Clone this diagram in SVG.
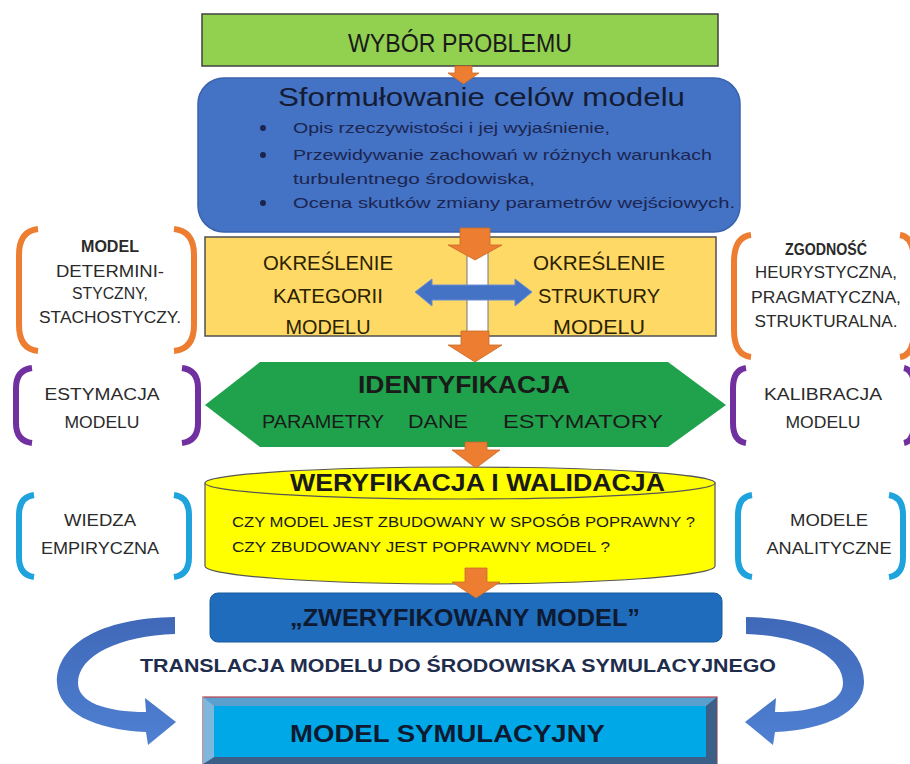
<svg xmlns="http://www.w3.org/2000/svg" width="910" height="764" viewBox="0 0 910 764">
<defs>
<style>
text{font-family:"Liberation Sans",Arial,sans-serif;fill:#1a1a1a}
.b{font-weight:bold}
.oa{fill:#ed7d31;stroke:#c96a28;stroke-width:0.8}
.br{fill:none;stroke-width:6;stroke-linecap:butt}
.bo{stroke:#ed7d31}
.bp{stroke:#7030a0}
.bb{stroke:#1fa3dc}
.side{font-size:16px;fill:#2a2a2a}
.bul{font-size:15px;fill:#1b2550}
.yt{font-size:21px;fill:#2b2200}
</style>
<linearGradient id="cg" x1="0" y1="0" x2="0" y2="1">
<stop offset="0" stop-color="#4068b8"/>
<stop offset="1" stop-color="#4f80d2"/>
</linearGradient>
</defs>

<g id="wybor">
<rect x="202" y="14" width="516" height="52" fill="#92d050" stroke="#404040" stroke-width="1.5"/>
<text x="348" y="52" font-size="26" textLength="224" lengthAdjust="spacingAndGlyphs">WYBÓR PROBLEMU</text>
</g>

<g id="cele">
<rect x="198" y="78" width="542" height="154" rx="26" fill="#4472c4" stroke="#3a62ad" stroke-width="1.5"/>
<text x="278" y="106" font-size="26" textLength="407" lengthAdjust="spacingAndGlyphs" style="fill:#141c33">Sformułowanie celów modelu</text>
<circle cx="263" cy="128" r="3" fill="#1b2550"/>
<circle cx="263" cy="155" r="3" fill="#1b2550"/>
<circle cx="263" cy="203" r="3" fill="#1b2550"/>
<text class="bul" x="293" y="133" textLength="317" lengthAdjust="spacingAndGlyphs">Opis rzeczywistości i jej wyjaśnienie,</text>
<text class="bul" x="293" y="160" textLength="419" lengthAdjust="spacingAndGlyphs">Przewidywanie zachowań w różnych warunkach</text>
<text class="bul" x="293" y="184" textLength="242" lengthAdjust="spacingAndGlyphs">turbulentnego środowiska,</text>
<text class="bul" x="293" y="208" textLength="442" lengthAdjust="spacingAndGlyphs">Ocena skutków zmiany parametrów wejściowych.</text>
</g>

<g id="okreslenie">
<rect x="205" y="237" width="511" height="99" fill="#ffd966" stroke="#505050" stroke-width="1.5"/>
<rect x="467" y="237" width="21" height="99" fill="#ffffff" stroke="#777" stroke-width="1"/>
<text class="yt" x="328" y="270" text-anchor="middle" textLength="130" lengthAdjust="spacingAndGlyphs">OKREŚLENIE</text>
<text class="yt" x="328" y="303" text-anchor="middle" textLength="110" lengthAdjust="spacingAndGlyphs">KATEGORII</text>
<text class="yt" x="328" y="334" text-anchor="middle" textLength="85" lengthAdjust="spacingAndGlyphs">MODELU</text>
<text class="yt" x="599" y="270" text-anchor="middle" textLength="132" lengthAdjust="spacingAndGlyphs">OKREŚLENIE</text>
<text class="yt" x="599" y="303" text-anchor="middle" textLength="122" lengthAdjust="spacingAndGlyphs">STRUKTURY</text>
<text class="yt" x="599" y="334" text-anchor="middle" textLength="92" lengthAdjust="spacingAndGlyphs">MODELU</text>
<path d="M415 292 L432 279 L432 285 L515 285 L515 279 L532 292 L515 306 L515 300 L432 300 L432 306 Z" fill="#4472c4" stroke="#6a8fd4" stroke-width="1"/>
</g>

<g id="identyfikacja">
<polygon points="205,405 260,362 668,362 726,405 668,447 260,447" fill="#1fa24b"/>
<text class="b" x="464" y="393" text-anchor="middle" font-size="23" textLength="212" lengthAdjust="spacingAndGlyphs">IDENTYFIKACJA</text>
<text x="262" y="428" font-size="19" textLength="122" lengthAdjust="spacingAndGlyphs">PARAMETRY</text>
<text x="408" y="428" font-size="19" textLength="60" lengthAdjust="spacingAndGlyphs">DANE</text>
<text x="503" y="428" font-size="19" textLength="160" lengthAdjust="spacingAndGlyphs">ESTYMATORY</text>
</g>

<g id="weryfikacja">
<path d="M205 483 L205 566 A255 18 0 0 0 715 566 L715 483 Z" fill="#ffff00" stroke="#555" stroke-width="1.2"/>
<ellipse cx="460" cy="483" rx="255" ry="16" fill="#ffff00" stroke="#555" stroke-width="1.2"/>
<text class="b" x="290" y="491" font-size="23" textLength="375" lengthAdjust="spacingAndGlyphs">WERYFIKACJA I WALIDACJA</text>
<text x="232" y="527" font-size="15" textLength="463" lengthAdjust="spacingAndGlyphs">CZY MODEL JEST ZBUDOWANY  W SPOSÓB POPRAWNY ?</text>
<text x="232" y="552" font-size="15" textLength="378" lengthAdjust="spacingAndGlyphs">CZY ZBUDOWANY JEST POPRAWNY MODEL ?</text>
</g>

<g id="zweryfikowany">
<rect x="210" y="593" width="512" height="49" rx="8" fill="#1f6cbd" stroke="#1a5a9e" stroke-width="1"/>
<text class="b" x="290" y="626" font-size="23" textLength="350" lengthAdjust="spacingAndGlyphs" style="fill:#0d1a30">„ZWERYFIKOWANY MODEL”</text>
</g>

<g id="translacja">
<text class="b" x="140" y="672" font-size="18" textLength="636" lengthAdjust="spacingAndGlyphs" style="fill:#1f2d4d">TRANSLACJA MODELU DO ŚRODOWISKA SYMULACYJNEGO</text>
</g>

<g id="symulacyjny">
<rect x="203" y="697" width="514" height="67" fill="#5aa0cf" stroke="#c0404d" stroke-width="1.2"/>
<polygon points="717,697 717,764 706,764 706,706" fill="#3b5f87"/>
<polygon points="203,764 717,764 706,757 214,757" fill="#3b5f87"/>
<polygon points="203,697 214,706 214,757 203,764" fill="#7fb6dc"/>
<rect x="214" y="706" width="492" height="51" fill="#00a8e8"/>
<text class="b" x="290" y="742" font-size="24" textLength="315" lengthAdjust="spacingAndGlyphs" style="fill:#0d1a30">MODEL SYMULACYJNY</text>
</g>

<g id="brackets">
<path class="br bo" d="M38 229 Q19 231 19 255 L19 325 Q19 349 38 351"/>
<path class="br bo" d="M174 229 Q194 231 194 255 L194 325 Q194 349 174 351"/>
<text class="side b" x="110" y="252" text-anchor="middle" textLength="58" lengthAdjust="spacingAndGlyphs">MODEL</text>
<text class="side" x="110" y="277" text-anchor="middle" textLength="108" lengthAdjust="spacingAndGlyphs">DETERMINI-</text>
<text class="side" x="110" y="299" text-anchor="middle" textLength="76" lengthAdjust="spacingAndGlyphs">STYCZNY,</text>
<text class="side" x="110" y="323" text-anchor="middle" textLength="142" lengthAdjust="spacingAndGlyphs">STACHOSTYCZY.</text>

<path class="br bo" d="M751 235 Q734 237 734 262 L734 330 Q734 355 751 357"/>
<path class="br bo" d="M900 235 Q914 237 914 262 L914 330 Q914 355 900 357"/>
<text class="side b" x="826" y="255" text-anchor="middle" textLength="82" lengthAdjust="spacingAndGlyphs">ZGODNOŚĆ</text>
<text class="side" x="826" y="278" text-anchor="middle" textLength="142" lengthAdjust="spacingAndGlyphs">HEURYSTYCZNA,</text>
<text class="side" x="826" y="303" text-anchor="middle" textLength="150" lengthAdjust="spacingAndGlyphs">PRAGMATYCZNA,</text>
<text class="side" x="826" y="327" text-anchor="middle" textLength="143" lengthAdjust="spacingAndGlyphs">STRUKTURALNA.</text>

<path class="br bp" d="M32 368 Q16 370 16 388 L16 423 Q16 441 32 443"/>
<path class="br bp" d="M182 368 Q198 370 198 388 L198 423 Q198 441 182 443"/>
<text class="side" x="102" y="400" text-anchor="middle" textLength="115" lengthAdjust="spacingAndGlyphs">ESTYMACJA</text>
<text class="side" x="102" y="428" text-anchor="middle" textLength="75" lengthAdjust="spacingAndGlyphs">MODELU</text>

<path class="br bp" d="M746 368 Q733 370 733 388 L733 423 Q733 441 746 443"/>
<path class="br bp" d="M904 368 Q914 370 914 388 L914 423 Q914 441 904 443"/>
<text class="side" x="823" y="400" text-anchor="middle" textLength="118" lengthAdjust="spacingAndGlyphs">KALIBRACJA</text>
<text class="side" x="823" y="428" text-anchor="middle" textLength="75" lengthAdjust="spacingAndGlyphs">MODELU</text>

<path class="br bb" d="M34 495 Q19 497 19 515 L19 557 Q19 575 34 577"/>
<path class="br bb" d="M174 495 Q189 497 189 515 L189 557 Q189 575 174 577"/>
<text class="side" x="100" y="526" text-anchor="middle" textLength="72" lengthAdjust="spacingAndGlyphs">WIEDZA</text>
<text class="side" x="100" y="554" text-anchor="middle" textLength="118" lengthAdjust="spacingAndGlyphs">EMPIRYCZNA</text>

<path class="br bb" d="M752 495 Q738 497 738 515 L738 557 Q738 575 752 577"/>
<path class="br bb" d="M889 495 Q903 497 903 515 L903 557 Q903 575 889 577"/>
<text class="side" x="829" y="526" text-anchor="middle" textLength="78" lengthAdjust="spacingAndGlyphs">MODELE</text>
<text class="side" x="829" y="554" text-anchor="middle" textLength="125" lengthAdjust="spacingAndGlyphs">ANALITYCZNE</text>
</g>

<g id="connectors">
<path class="oa" d="M455 66 L472 66 L472 73 L479 73 L463.5 84 L448 73 L455 73 Z"/>
<path class="oa" d="M460 228 L490 228 L490 245 L502 245 L475 260 L448 245 L460 245 Z"/>
<path class="oa" d="M461 331 L489 331 L489 345 L502 345 L475 362 L448 345 L461 345 Z"/>
<path class="oa" d="M465 442 L487 442 L487 450 L500 450 L476 468 L452 450 L465 450 Z"/>
<path class="oa" d="M465 568 L487 568 L487 582 L500 582 L476 598 L452 582 L465 582 Z"/>
<path d="M175 617 C100 618 56 645 57 683 C58 712 95 730 146 732 L148 745 L176 722 L145 698 L146 712 C105 712 78 702 78 683 C78 655 120 636 175 634 Z" fill="url(#cg)"/>
<path transform="translate(921,-4) scale(-1,1)" d="M175 621 C100 622 56 649 57 687 C58 716 95 734 146 736 L148 749 L176 726 L145 702 L146 716 C105 716 78 706 78 687 C78 659 120 640 175 638 Z" fill="url(#cg)"/>
</g>
</svg>
